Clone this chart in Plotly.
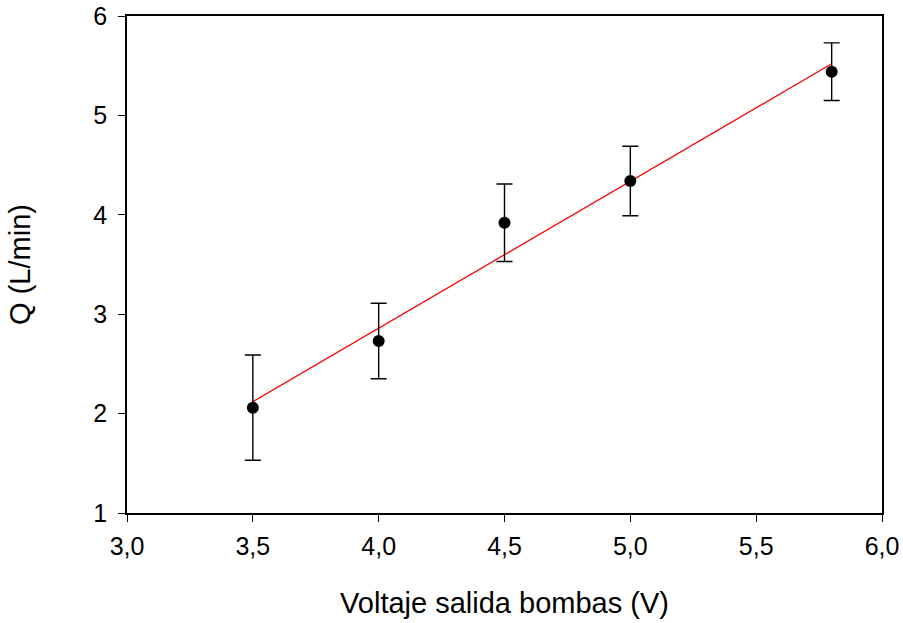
import plotly.graph_objects as go

# Measured pump output voltage vs flow rate
voltage = [3.5, 4.0, 4.5, 5.0, 5.8]
flow = [2.06, 2.73, 3.92, 4.34, 5.44]
flow_err = [0.53, 0.38, 0.39, 0.35, 0.29]

# Linear fit drawn across the measured range
fit_x = [3.5, 5.8]
fit_y = [2.12, 5.52]

x_ticks = [3.0, 3.5, 4.0, 4.5, 5.0, 5.5, 6.0]
y_ticks = [1, 2, 3, 4, 5, 6]

FONT = "Liberation Sans, Arial, sans-serif"

fig = go.Figure()
fig.add_trace(go.Scatter(
    x=fit_x, y=fit_y, mode="lines",
    line=dict(color="#ff0000", width=1.3),
    showlegend=False, hoverinfo="skip",
))
fig.add_trace(go.Scatter(
    x=voltage, y=flow, mode="markers",
    marker=dict(color="black", size=12),
    error_y=dict(type="data", array=flow_err, visible=True,
                 color="black", thickness=1.4, width=8),
    showlegend=False,
))

axis_common = dict(
    showgrid=False, zeroline=False, automargin=False,
    showline=True, linecolor="black", linewidth=1.5, mirror=True,
    ticks="outside", ticklen=7, tickwidth=1.4, tickcolor="black",
    tickfont=dict(family=FONT, size=25, color="black"),
)

fig.update_xaxes(
    range=[3.0, 6.0], tickvals=x_ticks, tickformat=".1f",
    ticklabelstandoff=3,
    title=dict(text="Voltaje salida bombas (V)", standoff=34,
               font=dict(family=FONT, size=29, color="black")),
    **axis_common,
)
fig.update_yaxes(
    range=[1, 6], tickvals=y_ticks,
    ticklabelstandoff=6,
    title=dict(text="Q (L/min)", standoff=54,
               font=dict(family=FONT, size=29, color="black")),
    **axis_common,
)

fig.update_layout(
    width=903, height=623,
    margin=dict(l=127, r=21, t=16, b=110),
    paper_bgcolor="white", plot_bgcolor="white",
    separators=",.",
)

fig.write_html("out.html")
